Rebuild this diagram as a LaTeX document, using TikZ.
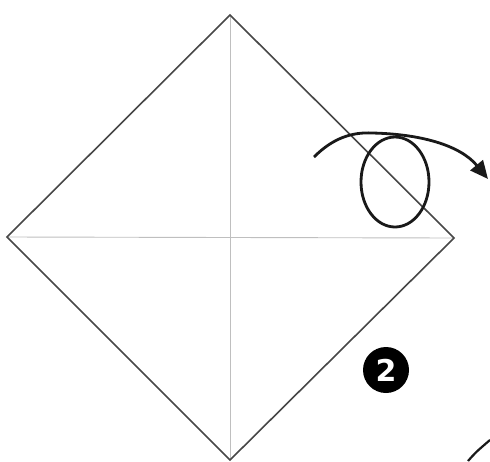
\documentclass[tikz,border=0pt]{standalone}
\usepackage{fontspec}
\setmainfont{DejaVu Sans}
\usetikzlibrary{arrows.meta,shapes.geometric}
\begin{document}
\begin{tikzpicture}[x=1pt,y=-1pt,
  paper/.style={draw=black!72, line width=1.6pt, line join=miter},
  crease/.style={draw=black!25, line width=0.9pt},
  move/.style={draw=black!90, line width=2.8pt},
  badge/.style={circle, fill=black, text=white, inner sep=0pt, minimum size=46pt, font=\bfseries\fontsize{30}{30}\selectfont}]
\useasboundingbox (0,0) rectangle (490,461);
\coordinate (T) at (230,15);
\coordinate (B) at (230,460);
\coordinate (L) at (7,237);
\coordinate (R) at (454,238);
\draw[crease] (L) -- (R);
\draw[crease] (T) -- (B);
\draw[paper] (T) -- (R) -- (B) -- (L) -- cycle;
\coordinate (s) at (314,157);
\coordinate (p) at (372,133);
\coordinate (e) at (488,179);
\draw[move, -{Triangle[length=18pt,width=16pt]}] (s) .. controls (333,138) and (352,132) .. (p) .. controls (420,134) and (460,145) .. (e);
\node[move, draw, ellipse, minimum width=68pt, minimum height=90pt, inner sep=0pt] (loop) at (395,182) {};
\node[badge] (num) at (386,370) {2};
\coordinate (c1) at (468,461);
\coordinate (c2) at (490,440);
\draw[move, line width=2.2pt] (c1) .. controls (476,452) .. (c2);
\end{tikzpicture}
\end{document}
